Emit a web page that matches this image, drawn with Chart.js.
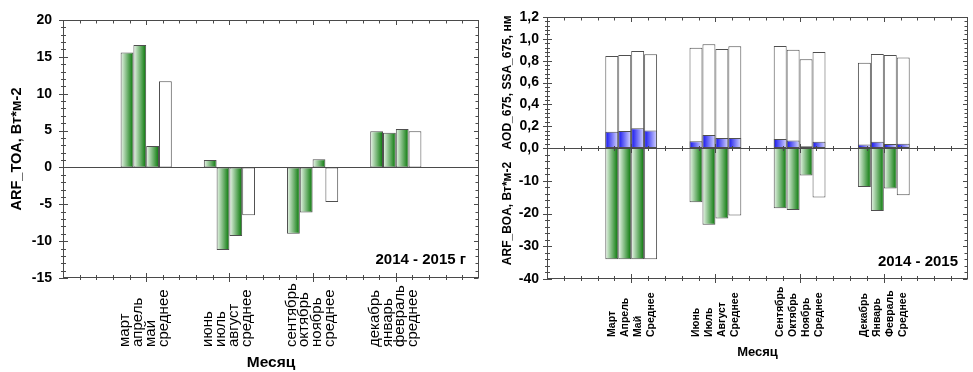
<!DOCTYPE html>
<html>
<head>
<meta charset="utf-8">
<script src="https://cdn.jsdelivr.net/npm/chart.js@4.4.1/dist/chart.umd.min.js"></script>
<style>
  html, body { margin: 0; padding: 0; background: #ffffff; width: 973px; height: 372px; overflow: hidden; }
  #toa { position: absolute; left: 0; top: 0; }
  #boa { position: absolute; left: 485px; top: 0; }
</style>
</head>
<body>
<canvas id="toa" width="485" height="372"></canvas>
<canvas id="boa" width="488" height="372"></canvas>
<script>
// Season groups sit at these positions on the month axis (0..25)
const groupCenters = [5, 10, 15, 20];

// Month names per season (three months + seasonal mean)
const toaMonths = [
  ['март', 'апрель', 'май', 'среднее'],
  ['июнь', 'июль', 'август', 'среднее'],
  ['сентябрь', 'октябрь', 'ноябрь', 'среднее'],
  ['декабрь', 'январь', 'февраль', 'среднее']
];
const boaMonths = [
  ['Март', 'Апрель', 'Май', 'Среднее'],
  ['Июнь', 'Июль', 'Август', 'Среднее'],
  ['Сентябрь', 'Октябрь', 'Ноябрь', 'Среднее'],
  ['Декабрь', 'Январь', 'Февраль', 'Среднее']
];

// ARF at top of atmosphere, Вт*м-2
const toaSpring = [15.6, 16.6, 2.9, 11.7];
const toaSummer = [1.0, -11.2, -9.3, -6.5];
const toaAutumn = [-9.0, -6.1, 1.1, -4.7];
const toaWinter = [4.9, 4.7, 5.2, 4.9];

// AOD at 675 nm
const aodSpring = [0.150, 0.156, 0.180, 0.160];
const aodSummer = [0.061, 0.119, 0.092, 0.092];
const aodAutumn = [0.082, 0.068, 0.016, 0.058];
const aodWinter = [0.031, 0.058, 0.037, 0.040];

// SSA at 675 nm
const ssaSpring = [0.842, 0.852, 0.888, 0.858];
const ssaSummer = [0.919, 0.950, 0.907, 0.931];
const ssaAutumn = [0.934, 0.901, 0.812, 0.879];
const ssaWinter = [0.782, 0.861, 0.852, 0.828];

// ARF at bottom of atmosphere, Вт*м-2
const boaSpring = [-34.0, -34.0, -34.0, -34.0];
const boaSummer = [-16.6, -23.4, -21.5, -20.6];
const boaAutumn = [-18.4, -18.9, -8.4, -15.1];
const boaWinter = [-11.9, -19.2, -12.4, -14.4];

const FONT = "'Liberation Sans', Arial, Helvetica, sans-serif";
const INK = '#000000';
const AXIS = '#4a4a4a';
const EDGE = '#4f4f4f';

function slotPoints(seasons, k) {
  return seasons.map((s, g) => ({ x: groupCenters[g], y: s[k] }));
}

// Horizontal shading across each bar, built from the bar's own element geometry
function sideShade(from, to) {
  return (c) => {
    const el = c.element;
    if (!el || !Number.isFinite(el.x) || !el.width) return to;
    const g = c.chart.ctx.createLinearGradient(el.x - el.width / 2, 0, el.x + el.width / 2, 0);
    g.addColorStop(0, from);
    g.addColorStop(1, to);
    return g;
  };
}
const greenShade = sideShade('#eef8ee', '#037503');
const blueShade = sideShade('#1010ee', '#d8d8ff');

const barBase = {
  borderColor: EDGE,
  borderWidth: 1,
  borderSkipped: false,
  categoryPercentage: 0.615,
  barPercentage: 1.0
};

// Frame, tick marks, zero line, rotated month labels and notes
function makeDecor(cfg) {
  return {
    id: 'decor',
    afterDatasetsDraw(chart) {
      const ctx = chart.ctx, a = chart.chartArea, xs = chart.scales.x;
      const L = Math.round(a.left) + 0.5, R = Math.round(a.right) - 0.5;
      const T = Math.round(a.top) + 0.5, B = Math.round(a.bottom) - 0.5;
      const seg = (x1, y1, x2, y2) => { ctx.moveTo(x1, y1); ctx.lineTo(x2, y2); };
      ctx.save();
      ctx.strokeStyle = AXIS;
      ctx.lineWidth = 1;
      ctx.beginPath();
      const zeroYs = cfg.zeroAxes.map(id => Math.round(chart.scales[id].getPixelForValue(0)) + 0.5);
      zeroYs.forEach(zy => seg(L, zy, R, zy));
      const nx = Math.round(xs.max - xs.min);
      for (let i = 1; i < nx; i++) {
        const v = xs.min + i;
        const px = Math.round(xs.getPixelForValue(v)) + 0.5;
        const major = v % 5 === 0;
        const len = major ? 4.5 : 2.5;
        seg(px, B - len, px, B + len);
        seg(px, T, px, T + (major ? 4.5 : 3));
        if (cfg.zeroTicks) zeroYs.forEach(zy => seg(px, zy - len, px, zy + len));
      }
      for (const ax of cfg.yAxes) {
        const s = chart.scales[ax.id];
        const n = Math.round((s.max - s.min) / ax.minor);
        for (let i = 0; i <= n; i++) {
          const v = s.min + i * ax.minor;
          const py = Math.round(s.getPixelForValue(v)) + 0.5;
          const major = i % ax.per === 0;
          const len = major ? 4.5 : 2.5;
          seg(L - len, py, L + len, py);
          seg(R - (major ? 4.5 : 3), py, R, py);
        }
      }
      ctx.stroke();
      ctx.strokeRect(L, T, R - L, B - T);
      ctx.restore();
    },
    afterDraw(chart) {
      const ctx = chart.ctx, a = chart.chartArea;
      ctx.save();
      ctx.fillStyle = INK;
      ctx.font = cfg.monthFont;
      cfg.labelSets.forEach((di, k) => {
        chart.getDatasetMeta(di).data.forEach((el, g) => {
          ctx.save();
          ctx.translate(el.x + cfg.labelDx, cfg.labelBase);
          ctx.rotate(-Math.PI / 2);
          ctx.textAlign = 'left';
          ctx.textBaseline = 'middle';
          ctx.fillText(cfg.months[g][k], 0, 0);
          ctx.restore();
        });
      });
      ctx.font = cfg.axisFont;
      ctx.textAlign = 'center';
      ctx.textBaseline = 'middle';
      ctx.fillText(cfg.axisName, (a.left + a.right) / 2, cfg.axisY);
      ctx.font = cfg.noteFont;
      ctx.textAlign = 'right';
      ctx.fillText(cfg.note, a.right - cfg.noteInset, cfg.noteY);
      ctx.restore();
    }
  };
}

function hiddenX(height, stacked) {
  return {
    type: 'linear', min: 0, max: 25, offset: false, stacked: stacked,
    ticks: { display: false, stepSize: 5 },
    grid: { display: false, offset: false },
    border: { display: false },
    afterFit(s) { s.height = height; }
  };
}

const tickFont = { family: FONT, size: 14, weight: 'bold' };

// ---- ARF_TOA ----
const toaSeasons = [toaSpring, toaSummer, toaAutumn, toaWinter];
const toaChart = new Chart(document.getElementById('toa'), {
  type: 'bar',
  data: {
    datasets: [0, 1, 2, 3].map(k => Object.assign({}, barBase, {
      label: toaMonths[0][k],
      data: slotPoints(toaSeasons, k),
      backgroundColor: k < 3 ? greenShade : '#ffffff'
    }))
  },
  options: {
    responsive: false, animation: false, events: [],
    layout: { padding: { top: 20, right: 6, left: 0, bottom: 0 } },
    plugins: { legend: { display: false }, tooltip: { enabled: false } },
    scales: {
      x: hiddenX(94, false),
      y: {
        min: -15, max: 20,
        ticks: { stepSize: 5, autoSkip: false, font: tickFont, color: INK, padding: 11 },
        grid: { display: false, drawTicks: false },
        border: { display: false },
        title: { display: true, text: 'ARF_TOA, Вт*м-2', color: INK,
                 font: { family: FONT, size: 14.5, weight: 'bold' }, padding: { top: 8, bottom: 0 } },
        afterFit(s) { s.width = 63; }
      }
    }
  },
  plugins: [makeDecor({
    zeroAxes: ['y'], zeroTicks: false,
    yAxes: [{ id: 'y', minor: 1, per: 5 }],
    labelSets: [0, 1, 2, 3], months: toaMonths,
    monthFont: `15px ${FONT}`, labelBase: 347, labelDx: -2,
    axisName: 'Месяц', axisFont: `bold 15.5px ${FONT}`, axisY: 363,
    note: '2014 - 2015 г', noteFont: `bold 15px ${FONT}`, noteInset: 13, noteY: 260
  })]
});
toaChart.update();

// ---- AOD / SSA over ARF_BOA ----
const aodSeasons = [aodSpring, aodSummer, aodAutumn, aodWinter];
const ssaSeasons = [ssaSpring, ssaSummer, ssaAutumn, ssaWinter];
const boaSeasons = [boaSpring, boaSummer, boaAutumn, boaWinter];
const boaSets = [];
[0, 1, 2, 3].forEach(k => boaSets.push(Object.assign({}, barBase, {
  label: 'AOD ' + boaMonths[0][k], data: slotPoints(aodSeasons, k),
  yAxisID: 'yTop', stack: 's' + k, order: 0, backgroundColor: blueShade
})));
[0, 1, 2, 3].forEach(k => boaSets.push(Object.assign({}, barBase, {
  label: 'SSA ' + boaMonths[0][k], data: slotPoints(ssaSeasons, k),
  yAxisID: 'yTop', stack: 's' + k, order: 1, backgroundColor: '#ffffff'
})));
[0, 1, 2, 3].forEach(k => boaSets.push(Object.assign({}, barBase, {
  label: 'ARF ' + boaMonths[0][k], data: slotPoints(boaSeasons, k),
  yAxisID: 'yBot', stack: 's' + k, order: 2, backgroundColor: k < 3 ? greenShade : '#ffffff'
})));

const boaChart = new Chart(document.getElementById('boa'), {
  type: 'bar',
  data: { datasets: boaSets },
  options: {
    responsive: false, animation: false, events: [],
    layout: { padding: { top: 17, right: 5, left: 0, bottom: 0 } },
    plugins: { legend: { display: false }, tooltip: { enabled: false } },
    scales: {
      x: hiddenX(93, true),
      yTop: {
        position: 'left', stack: 'panel', stackWeight: 1, weight: 2, stacked: false,
        min: 0, max: 1.2,
        ticks: { stepSize: 0.2, autoSkip: false, font: tickFont, color: INK, padding: 8,
                 callback: v => v.toFixed(1).replace('.', ',') },
        grid: { display: false, drawTicks: false },
        border: { display: false },
        title: { display: true, text: 'AOD_675, SSA_675, нм', color: INK,
                 font: { family: FONT, size: 12, weight: 'bold' }, padding: { top: 15, bottom: 0 } },
        afterFit(s) { s.width = 62; }
      },
      yBot: {
        position: 'left', stack: 'panel', stackWeight: 1, weight: 1, stacked: false,
        min: -40, max: 0,
        ticks: { stepSize: 10, autoSkip: false, font: tickFont, color: INK, padding: 8,
                 callback: v => (v === 0 ? '' : String(v)) },
        grid: { display: false, drawTicks: false },
        border: { display: false },
        title: { display: true, text: 'ARF_BOA, Вт*м-2', color: INK,
                 font: { family: FONT, size: 12, weight: 'bold' }, padding: { top: 15, bottom: 0 } },
        afterFit(s) { s.width = 62; }
      }
    }
  },
  plugins: [makeDecor({
    zeroAxes: ['yTop'], zeroTicks: true,
    yAxes: [{ id: 'yTop', minor: 0.04, per: 5 }, { id: 'yBot', minor: 2, per: 5 }],
    labelSets: [8, 9, 10, 11], months: boaMonths,
    monthFont: `bold 10.5px ${FONT}`, labelBase: 337, labelDx: 0,
    axisName: 'Месяц', axisFont: `bold 13px ${FONT}`, axisY: 352,
    note: '2014 - 2015', noteFont: `bold 15px ${FONT}`, noteInset: 10, noteY: 262
  })]
});
boaChart.update();
</script>
</body>
</html>
